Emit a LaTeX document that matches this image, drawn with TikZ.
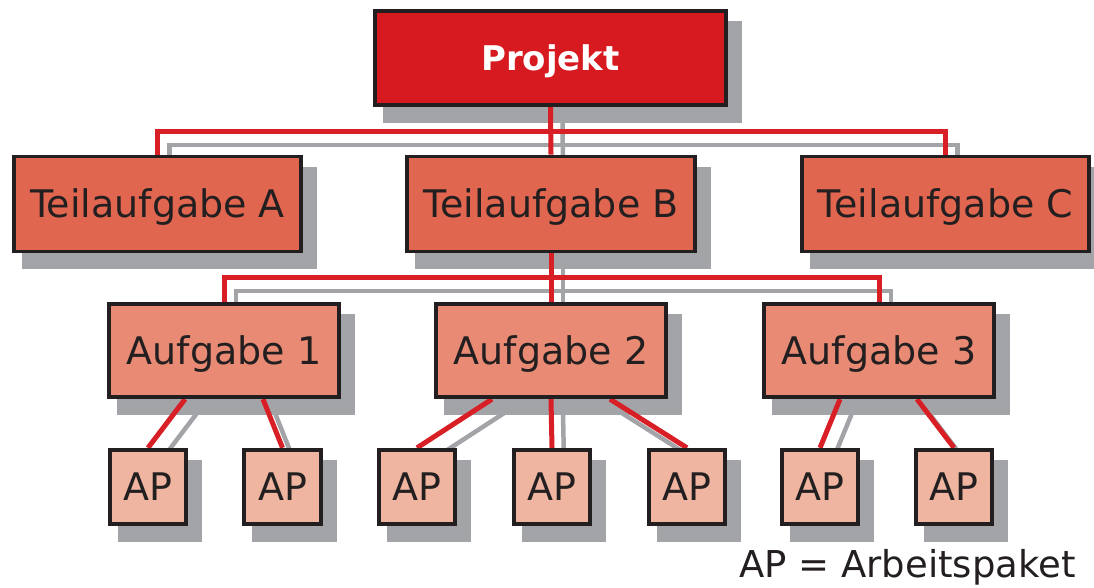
\documentclass[tikz,border=0pt]{standalone}
\usepackage{fontspec}
\setmainfont{DejaVu Sans}
\usetikzlibrary{calc}
\definecolor{projred}{HTML}{D71920}
\definecolor{teilcol}{HTML}{E0664F}
\definecolor{aufgcol}{HTML}{E98A74}
\definecolor{apcol}{HTML}{F0B5A0}
\definecolor{shgray}{HTML}{A3A4A8}
\definecolor{linered}{HTML}{D81F26}
\definecolor{dark}{HTML}{231F20}
\pgfdeclarelayer{shadowlayer}
\pgfdeclarelayer{linelayer}
\pgfsetlayers{shadowlayer,linelayer,main}
\tikzset{
  boxbase/.style={draw=dark, line width=3.8pt, inner sep=0pt, text=dark, text depth=0pt},
  projbox/.style={boxbase, fill=projred, text=white, minimum width=351.5pt, minimum height=94.5pt,
    font=\fontsize{34}{36}\selectfont\bfseries, text height=24.8pt},
  teilbox/.style={boxbase, fill=teilcol, minimum width=287.5pt, minimum height=95pt,
    font=\fontsize{38}{40}\selectfont, text height=27.7pt},
  aufgbox/.style={boxbase, fill=aufgcol, minimum width=230.5pt, minimum height=93.5pt,
    font=\fontsize{38}{40}\selectfont, text height=27.7pt},
  apbox/.style={boxbase, fill=apcol, minimum width=76.5pt, minimum height=74.5pt,
    font=\fontsize{38}{40}\selectfont, text height=27.7pt},
  redline/.style={draw=linered, line width=5pt},
  grayline/.style={draw=shgray, line width=4.5pt},
  boxshadow/.style={fill=shgray}
}
\begin{document}
\begin{tikzpicture}[x=1pt,y=-1pt]
\useasboundingbox (0,0) rectangle (1094,587);
% boxes
\node[projbox] (P) at (550.5,58) {Projekt};
\node[teilbox] (TA) at (157.5,204) {Teilaufgabe A};
\node[teilbox] (TB) at (551,204) {Teilaufgabe B};
\node[teilbox] (TC) at (945.5,204) {Teilaufgabe C};
\node[aufgbox] (A1) at (224,350.5) {Aufgabe 1};
\node[aufgbox] (A2) at (551,350.5) {Aufgabe 2};
\node[aufgbox] (A3) at (879,350.5) {Aufgabe 3};
\node[apbox] (AP1) at (148,487) {AP};
\node[apbox] (AP2) at (282.5,487) {AP};
\node[apbox] (AP3) at (417,487) {AP};
\node[apbox] (AP4) at (552,487) {AP};
\node[apbox] (AP5) at (687,487) {AP};
\node[apbox] (AP6) at (820,487) {AP};
\node[apbox] (AP7) at (954,487) {AP};
\node[anchor=base east, text=dark, inner sep=0pt, font=\fontsize{37}{39}\selectfont] (legend) at (1076,577) {AP = Arbeitspaket};
\coordinate (j1) at (551,131);
\coordinate (j2) at (551,277);
% connectors (drawn twice: shadow and red); #2 = shift
\def\connectors#1#2{%
  \draw[#1] ([shift={#2}]P.south) -- ([shift={#2}]TB.north);
  \draw[#1] ([shift={#2}]TA.north) |- ([shift={#2}]j1) -| ([shift={#2}]TC.north);
  \draw[#1] ([shift={#2}]TB.south) -- ([shift={#2}]A2.north);
  \draw[#1] ([shift={#2}]A1.north) |- ([shift={#2}]j2) -| ([shift={#2}]A3.north);
  \draw[#1] ([shift={#2},xshift=-39pt]A1.south) -- ([shift={#2}]AP1.north);
  \draw[#1] ([shift={#2},xshift=39pt]A1.south) -- ([shift={#2}]AP2.north);
  \draw[#1] ([shift={#2},xshift=-59pt]A2.south) -- ([shift={#2}]AP3.north);
  \draw[#1] ([shift={#2}]A2.south) -- ([shift={#2}]AP4.north);
  \draw[#1] ([shift={#2},xshift=59pt]A2.south) -- ([shift={#2}]AP5.north);
  \draw[#1] ([shift={#2},xshift=-39pt]A3.south) -- ([shift={#2}]AP6.north);
  \draw[#1] ([shift={#2},xshift=38pt]A3.south) -- ([shift={#2}]AP7.north);
}
\begin{pgfonlayer}{linelayer}
  \connectors{redline}{(0,0)}
\end{pgfonlayer}
\begin{pgfonlayer}{shadowlayer}
  \connectors{grayline}{(12,14)}
  \foreach \n in {P,TA,TB,TC,A1,A2,A3,AP1,AP2,AP3,AP4,AP5,AP6,AP7}{
    \fill[boxshadow] ($(\n.north west)+(12,14)+(-1.9,-1.9)$) rectangle ($(\n.south east)+(12,14)+(1.9,1.9)$);
  }
\end{pgfonlayer}
\end{tikzpicture}
\end{document}
